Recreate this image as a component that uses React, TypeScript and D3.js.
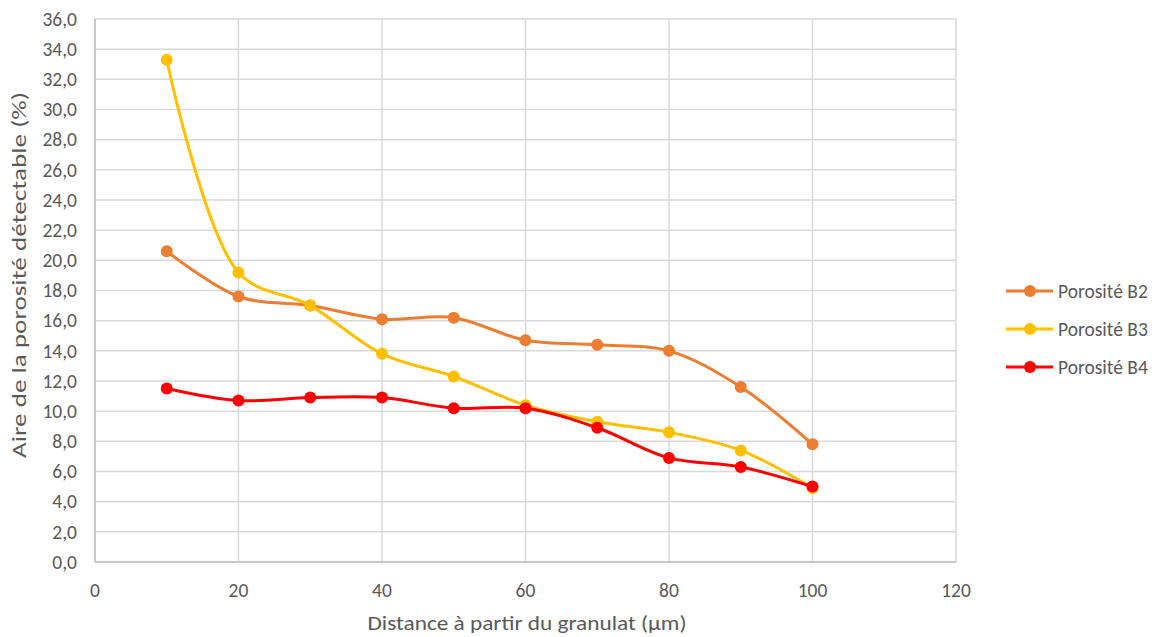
import React from "react";
import * as d3 from "d3";

const distances = [10, 20, 30, 40, 50, 60, 70, 80, 90, 100];
const porositeB2 = [20.6, 17.6, 17.0, 16.1, 16.2, 14.7, 14.4, 14.0, 11.6, 7.8];
const porositeB3 = [33.3, 19.2, 17.0, 13.8, 12.3, 10.4, 9.3, 8.6, 7.4, 4.9];
const porositeB4 = [11.5, 10.7, 10.9, 10.9, 10.2, 10.2, 8.9, 6.9, 6.3, 5.0];
const seriesNames = ["Porosité B2", "Porosité B3", "Porosité B4"];
const seriesColors = ["#ED7D31", "#FFC000", "#FF0000"];
const xTicks = [0, 20, 40, 60, 80, 100, 120];
const yTicks = d3.range(0, 36.01, 2);

export default function App() {
  const W = 1162, H = 637;
  const left = 95, right = 956, top = 19, bottom = 562;
  const x = d3.scaleLinear().domain([0, 120]).range([left, right]);
  const y = d3.scaleLinear().domain([0, 36]).range([bottom, top]);
  const all = [porositeB2, porositeB3, porositeB4];
  const line = d3
    .line<number>()
    .x((_, i) => x(distances[i]))
    .y((d) => y(d))
    .curve(d3.curveCatmullRom.alpha(0.5));
  const font = "Calibri, Carlito, 'Open Sans', 'Noto Sans', sans-serif";
  const legendY = [291, 329, 367];
  return (
    <svg width={W} height={H} style={{ position: "absolute", left: 0, top: 0, background: "#fff" }} fontFamily={font}>
      {yTicks.map((t) => (
        <line key={"gy" + t} x1={left} x2={right} y1={y(t)} y2={y(t)} stroke="#d9d9d9" strokeWidth={1.5} />
      ))}
      {xTicks.map((t) => (
        <line key={"gx" + t} x1={x(t)} x2={x(t)} y1={top} y2={bottom} stroke="#d9d9d9" strokeWidth={1.5} />
      ))}
      <line x1={left} x2={right} y1={bottom} y2={bottom} stroke="#bfbfbf" strokeWidth={1.5} />
      <line x1={left} x2={left} y1={top} y2={bottom} stroke="#bfbfbf" strokeWidth={1.5} />
      {yTicks.map((t) => (
        <text key={"ty" + t} x={77} y={y(t)} dy="0.35em" textAnchor="end" fontSize={19.5} fill="#595959">
          {t.toFixed(1).replace(".", ",")}
        </text>
      ))}
      {xTicks.map((t) => (
        <text key={"tx" + t} x={x(t)} y={590} dy="0.35em" textAnchor="middle" fontSize={19.5} fill="#595959">
          {t}
        </text>
      ))}
      <text x={527} y={623} dy="0.35em" textAnchor="middle" fontSize={21} fill="#595959" textLength={319} lengthAdjust="spacingAndGlyphs">
        Distance à partir du granulat (µm)
      </text>
      <text transform={`translate(19,275) rotate(-90)`} dy="0.35em" textAnchor="middle" fontSize={21} fill="#595959" textLength={366} lengthAdjust="spacingAndGlyphs">
        Aire de la porosité détectable (%)
      </text>
      {all.map((vals, si) => (
        <g key={"s" + si}>
          <path d={line(vals) || ""} fill="none" stroke={seriesColors[si]} strokeWidth={3} strokeLinejoin="round" />
          {vals.map((v, i) => (
            <circle key={i} cx={x(distances[i])} cy={y(v)} r={6} fill={seriesColors[si]} />
          ))}
        </g>
      ))}
      {seriesNames.map((n, i) => (
        <g key={"l" + i}>
          <line x1={1006} x2={1053} y1={legendY[i]} y2={legendY[i]} stroke={seriesColors[i]} strokeWidth={3} />
          <circle cx={1030} cy={legendY[i]} r={6} fill={seriesColors[i]} />
          <text x={1058} y={legendY[i]} dy="0.35em" fontSize={19.5} fill="#595959">
            {n}
          </text>
        </g>
      ))}
    </svg>
  );
}
